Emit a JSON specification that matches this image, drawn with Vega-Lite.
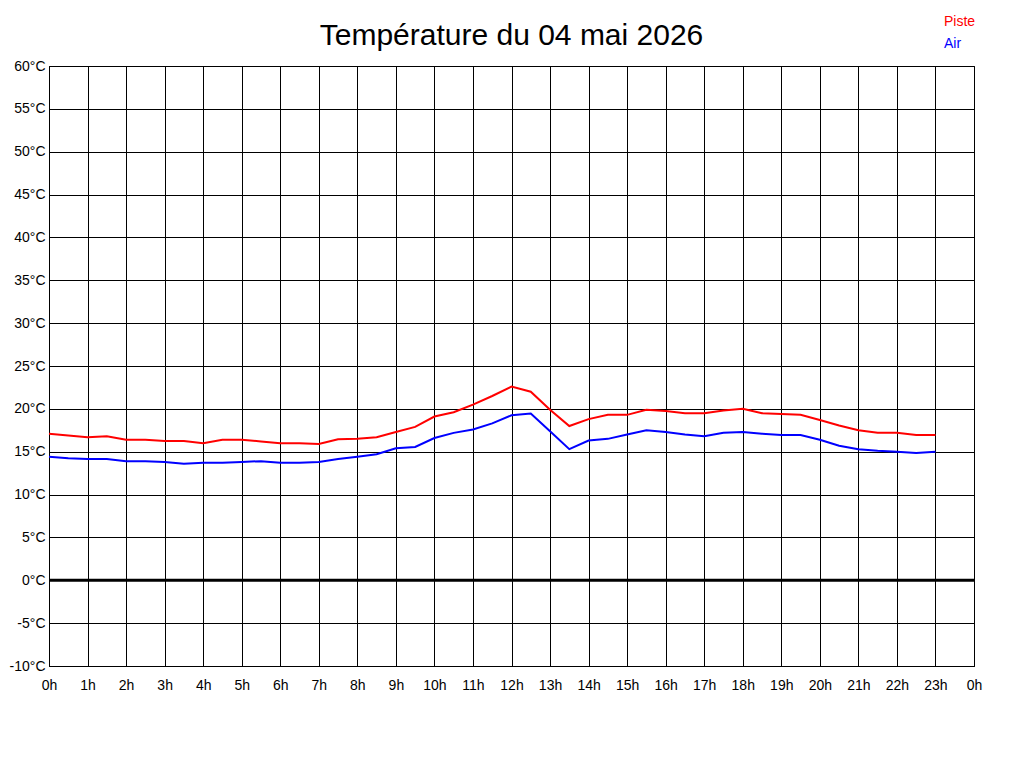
{
  "$schema": "https://vega.github.io/schema/vega-lite/v6.json",
  "width": 1024,
  "height": 768,
  "autosize": {"type": "fit", "contains": "padding"},
  "padding": {"left": 9, "top": 21, "right": 42, "bottom": 76},
  "background": "#ffffff",
  "title": {
    "text": "Température du 04 mai 2026",
    "fontSize": 30,
    "font": "Liberation Sans",
    "fontWeight": "normal",
    "color": "#000000",
    "anchor": "middle",
    "frame": "group",
    "baseline": "alphabetic",
    "offset": -16
  },
  "config": {
    "view": {"stroke": "#000000", "strokeWidth": 1},
    "font": "Liberation Sans",
    "axis": {
      "labelFont": "Liberation Sans",
      "labelFontSize": 14,
      "labelColor": "#000000",
      "domainColor": "#000000",
      "gridColor": "#000000",
      "gridOpacity": 1,
      "gridWidth": 1,
      "ticks": false,
      "title": null
    }
  },
  "layer": [
    {
      "data": {
        "values": [
          {"h": 0, "Piste": 17.1, "Air": 14.4},
          {"h": 0.5, "Piste": 16.9, "Air": 14.23},
          {"h": 1, "Piste": 16.7, "Air": 14.15},
          {"h": 1.5, "Piste": 16.8, "Air": 14.15},
          {"h": 2, "Piste": 16.4, "Air": 13.9},
          {"h": 2.5, "Piste": 16.4, "Air": 13.9},
          {"h": 3, "Piste": 16.25, "Air": 13.8},
          {"h": 3.5, "Piste": 16.25, "Air": 13.6},
          {"h": 4, "Piste": 16.0, "Air": 13.7},
          {"h": 4.5, "Piste": 16.4, "Air": 13.7},
          {"h": 5, "Piste": 16.4, "Air": 13.8},
          {"h": 5.5, "Piste": 16.2, "Air": 13.9},
          {"h": 6, "Piste": 16.0, "Air": 13.7},
          {"h": 6.5, "Piste": 16.0, "Air": 13.7},
          {"h": 7, "Piste": 15.9, "Air": 13.8},
          {"h": 7.5, "Piste": 16.45, "Air": 14.15},
          {"h": 8, "Piste": 16.5, "Air": 14.4},
          {"h": 8.5, "Piste": 16.7, "Air": 14.7},
          {"h": 9, "Piste": 17.3, "Air": 15.4},
          {"h": 9.5, "Piste": 17.9, "Air": 15.55},
          {"h": 10, "Piste": 19.1, "Air": 16.6},
          {"h": 10.5, "Piste": 19.6, "Air": 17.2},
          {"h": 11, "Piste": 20.5, "Air": 17.6},
          {"h": 11.5, "Piste": 21.5, "Air": 18.3},
          {"h": 12, "Piste": 22.6, "Air": 19.25},
          {"h": 12.5, "Piste": 22.0, "Air": 19.45},
          {"h": 13, "Piste": 19.9, "Air": 17.4},
          {"h": 13.5, "Piste": 18.0, "Air": 15.3},
          {"h": 14, "Piste": 18.8, "Air": 16.3},
          {"h": 14.5, "Piste": 19.3, "Air": 16.5},
          {"h": 15, "Piste": 19.3, "Air": 17.0},
          {"h": 15.5, "Piste": 19.9, "Air": 17.5},
          {"h": 16, "Piste": 19.75, "Air": 17.3},
          {"h": 16.5, "Piste": 19.5, "Air": 17.0},
          {"h": 17, "Piste": 19.5, "Air": 16.8},
          {"h": 17.5, "Piste": 19.8, "Air": 17.2},
          {"h": 18, "Piste": 20.0, "Air": 17.3},
          {"h": 18.5, "Piste": 19.5, "Air": 17.1},
          {"h": 19, "Piste": 19.4, "Air": 16.95},
          {"h": 19.5, "Piste": 19.3, "Air": 16.95},
          {"h": 20, "Piste": 18.7, "Air": 16.4},
          {"h": 20.5, "Piste": 18.05, "Air": 15.7},
          {"h": 21, "Piste": 17.5, "Air": 15.3},
          {"h": 21.5, "Piste": 17.2, "Air": 15.1},
          {"h": 22, "Piste": 17.2, "Air": 15.0},
          {"h": 22.5, "Piste": 16.95, "Air": 14.85},
          {"h": 23, "Piste": 16.95, "Air": 15.0}
        ]
      },
      "transform": [{"fold": ["Piste", "Air"], "as": ["serie", "temp"]}],
      "mark": {"type": "line", "strokeWidth": 2, "interpolate": "linear"},
      "encoding": {
        "x": {
          "field": "h",
          "type": "quantitative",
          "scale": {"domain": [0, 24], "nice": false, "zero": false},
          "axis": {
            "values": [0,1,2,3,4,5,6,7,8,9,10,11,12,13,14,15,16,17,18,19,20,21,22,23,24],
            "labelExpr": "(datum.value % 24) + 'h'",
            "labelPadding": 12,
            "labelFlush": false,
            "labelOverlap": false,
            "grid": true
          }
        },
        "y": {
          "field": "temp",
          "type": "quantitative",
          "scale": {"domain": [-10, 60], "nice": false, "zero": false},
          "axis": {
            "values": [-10,-5,0,5,10,15,20,25,30,35,40,45,50,55,60],
            "labelExpr": "datum.value + '°C'",
            "labelPadding": 4,
            "labelFlush": false,
            "labelOverlap": false,
            "grid": true
          }
        },
        "color": {
          "field": "serie",
          "type": "nominal",
          "scale": {"domain": ["Piste", "Air"], "range": ["#ff0000", "#0000ff"]},
          "legend": {
            "orient": "none",
            "legendX": 881,
            "legendY": -51,
            "title": null,
            "padding": 0,
            "symbolSize": 0,
            "symbolOpacity": 0,
            "symbolStrokeWidth": 0,
            "labelOffset": 0,
            "labelFontSize": 14,
            "labelFont": "Liberation Sans",
            "rowPadding": 8,
            "encode": {
              "labels": {
                "update": {
                  "fill": {"signal": "datum.value === 'Piste' ? '#ff0000' : '#0000ff'"}
                }
              }
            }
          }
        }
      }
    },
    {
      "data": {"values": [{"v": 0}]},
      "mark": {"type": "rule", "color": "#000000", "strokeWidth": 3},
      "encoding": {
        "y": {"field": "v", "type": "quantitative"}
      }
    }
  ]
}
